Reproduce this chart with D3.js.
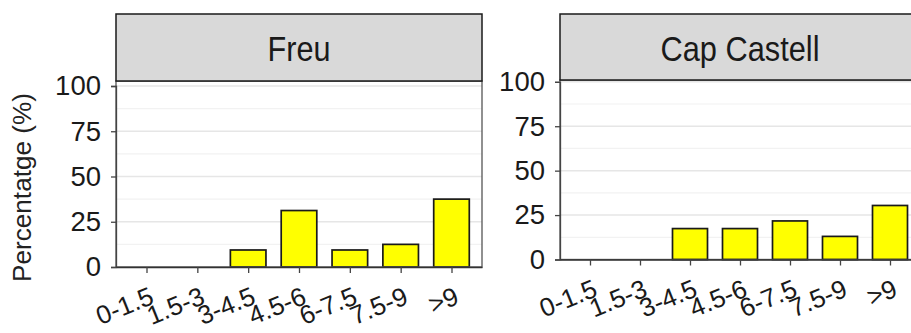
<!DOCTYPE html>
<html>
<head>
<meta charset="utf-8">
<script src="https://cdn.jsdelivr.net/npm/d3@7"></script>
<style>
  html, body { margin: 0; padding: 0; background: #fff; }
  svg { display: block; font-family: "Liberation Sans", Arial, sans-serif; }
</style>
</head>
<body>
<svg id="chart" width="911" height="333"></svg>
<script>
// Wave-height classes (m) and share of observations per site (%)
const categories = ["0-1.5", "1.5-3", "3-4.5", "4.5-6", "6-7.5", "7.5-9", ">9"];
const freuValues = [0, 0, 9.4, 31.2, 9.4, 12.5, 37.5];
const capCastellValues = [0, 0, 17.4, 17.4, 21.7, 13.0, 30.4];
const siteNames = ["Freu", "Cap Castell"];
const yTickValues = [0, 25, 50, 75, 100];
const yMinorValues = [12.5, 37.5, 62.5, 87.5];
const yTitle = "Percentatge (%)";

const svg = d3.select("#chart");

// facet geometry
const panels = [
  { name: siteNames[0], values: freuValues, x0: 116, x1: 482, stripTop: 14, top: 81, y0: 267, y100: 86, stripLen: 63 },
  { name: siteNames[1], values: capCastellValues, x0: 560, x1: 920, stripTop: 14, top: 80, y0: 259.5, y100: 81.8, stripLen: 159 }
];

panels.forEach(p => {
  const g = svg.append("g");
  const x = d3.scalePoint().domain(categories).range([p.x0, p.x1]).padding(0.6);
  const y = d3.scaleLinear().domain([0, 100]).range([p.y0, p.y100]);
  const bw = x.step() * 0.7;

  // panel background
  g.append("rect").attr("x", p.x0).attr("y", p.top)
    .attr("width", p.x1 - p.x0).attr("height", p.y0 - p.top).attr("fill", "#fff");

  // grid lines
  g.selectAll(".minor").data(yMinorValues).join("line")
    .attr("x1", p.x0).attr("x2", p.x1)
    .attr("y1", d => y(d)).attr("y2", d => y(d))
    .attr("stroke", "#f2f2f2").attr("stroke-width", 1.2);
  g.selectAll(".major").data(yTickValues).join("line")
    .attr("x1", p.x0).attr("x2", p.x1)
    .attr("y1", d => y(d)).attr("y2", d => y(d))
    .attr("stroke", "#e6e6e6").attr("stroke-width", 1.5);

  // bars
  g.selectAll(".bar").data(p.values.map((v, i) => ({ c: categories[i], v })))
    .join("rect")
    .attr("x", d => x(d.c) - bw / 2).attr("width", bw)
    .attr("y", d => y(d.v)).attr("height", d => y(0) - y(d.v))
    .attr("fill", "#ffff00").attr("stroke", "#1a1a1a").attr("stroke-width", 1.7);

  // panel border
  g.append("rect").attr("x", p.x0).attr("y", p.top)
    .attr("width", p.x1 - p.x0).attr("height", p.y0 - p.top)
    .attr("fill", "none").attr("stroke", "#555").attr("stroke-width", 1.3);

  // strip
  g.append("rect").attr("x", p.x0).attr("y", p.stripTop)
    .attr("width", p.x1 - p.x0).attr("height", p.top - p.stripTop)
    .attr("fill", "#d9d9d9").attr("stroke", "#1a1a1a").attr("stroke-width", 1.5);
  g.append("text")
    .attr("x", (p.x0 + p.x1) / 2).attr("y", p.stripTop + 47)
    .attr("text-anchor", "middle").attr("font-size", 35).attr("fill", "#1a1a1a")
    .attr("textLength", p.stripLen).attr("lengthAdjust", "spacingAndGlyphs")
    .text(p.name);

  // y axis
  const yAxis = d3.axisLeft(y).tickValues(yTickValues).tickSize(5).tickPadding(10);
  const ya = g.append("g").attr("transform", `translate(${p.x0},0)`).call(yAxis);
  ya.select(".domain").attr("stroke", "#444").attr("stroke-width", 1.3);
  ya.selectAll(".tick line").attr("stroke", "#444").attr("stroke-width", 1.3);
  ya.selectAll(".tick text").attr("font-size", 27.5).attr("fill", "#1a1a1a")
    .attr("font-family", "Liberation Sans, Arial, sans-serif");

  // x axis
  const xAxis = d3.axisBottom(x).tickSize(6).tickSizeOuter(0);
  const xa = g.append("g").attr("transform", `translate(0,${p.y0})`).call(xAxis);
  xa.select(".domain").attr("stroke", "#333").attr("stroke-width", 1.5);
  xa.selectAll(".tick line").attr("stroke", "#444").attr("stroke-width", 1.3);
  xa.selectAll(".tick text")
    .attr("font-size", 26).attr("fill", "#1a1a1a")
    .attr("font-family", "Liberation Sans, Arial, sans-serif")
    .attr("text-anchor", "end")
    .attr("y", 0).attr("dy", 0)
    .attr("transform", "translate(8.5,36) rotate(-22)");
});

// shared y title
svg.append("text")
  .attr("transform", "translate(31,187.5) rotate(-90)")
  .attr("text-anchor", "middle").attr("font-size", 26).attr("fill", "#222")
  .attr("textLength", 189).attr("lengthAdjust", "spacingAndGlyphs")
  .text(yTitle);
</script>
</body>
</html>
